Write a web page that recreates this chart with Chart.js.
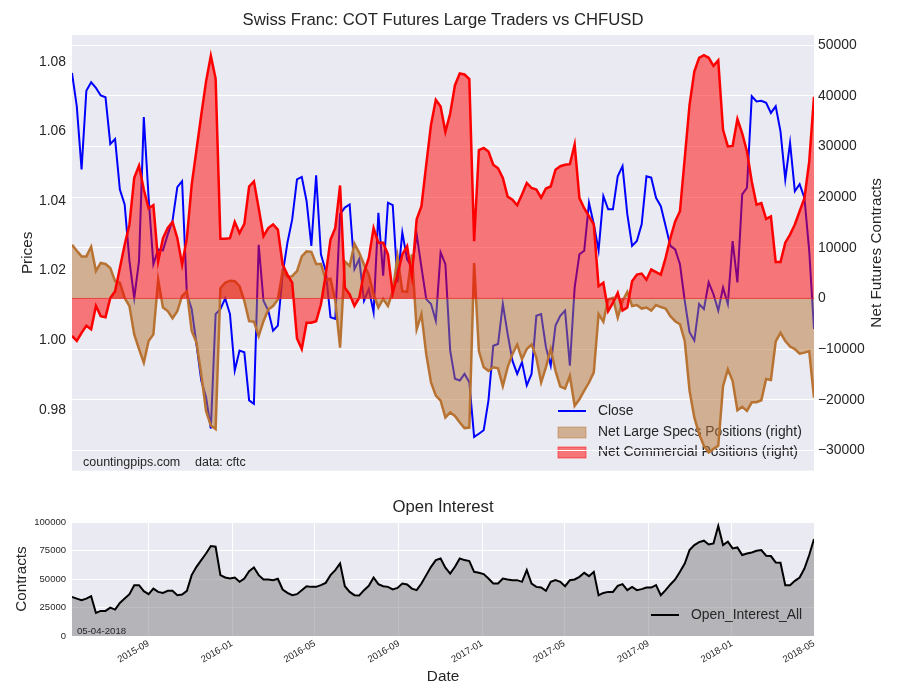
<!DOCTYPE html>
<html lang="en">
<head>
    <meta charset="UTF-8">
    <title>Swiss Franc: COT Futures Large Traders vs CHFUSD</title>
    <script src="https://cdn.jsdelivr.net/npm/chart.js"></script>
    <style>
        body { margin: 0; background: #ffffff; }
        #wrap { position: relative; width: 900px; height: 700px; }
        #topChart { position: absolute; left: 0; top: 0; }
        #oiChart { position: absolute; left: 0; top: 485px; }
    </style>
</head>
<body>
<div id="wrap">
    <canvas id="topChart" width="900" height="485"></canvas>
    <canvas id="oiChart" width="900" height="215"></canvas>
</div>

<script type="text/javascript">
    // weekly COT reports, first one on 2015-05-12, last one on 2018-05-01
    const firstReport = Date.UTC(2015, 4, 12);

    const closePrices = [
        1.0768, 1.0672, 1.0491, 1.0717, 1.0741, 1.0725, 1.0703, 1.0698, 1.0564, 1.0578,
        1.0433, 1.0390, 1.0228, 1.0121, 1.0228, 1.0641, 1.0410, 1.0218, 1.0261, 1.0258,
        1.0304, 1.0343, 1.0440, 1.0457, 1.0132, 1.0090, 0.9989, 0.9884, 0.9836, 0.9746,
        1.0075, 1.0089, 1.0120, 1.0075, 0.9913, 0.9970, 0.9965, 0.9827, 0.9817, 1.0274,
        1.0113, 1.0085, 1.0027, 1.0042, 1.0190, 1.0280, 1.0347, 1.0462, 1.0469, 1.0400,
        1.0271, 1.0474, 1.0247, 1.0199, 1.0066, 1.0061, 1.0362, 1.0381, 1.0390, 1.0204,
        1.0233, 1.0113, 1.0147, 1.0080, 1.0366, 1.0185, 1.0395, 1.0388, 1.0166, 1.0309,
        1.0233, 1.0209, 1.0304, 1.0209, 1.0118, 1.0104, 1.0056, 1.0252, 1.0218, 0.9970,
        0.9889, 0.9884, 0.9903, 0.9879, 0.9722, 0.9731, 0.9741, 0.9827, 0.9984, 0.9989,
        1.0104, 1.0018, 0.9941, 0.9903, 0.9937, 0.9870, 0.9903, 1.0070, 1.0075, 0.9980,
        0.9927, 1.0042, 1.0070, 1.0085, 0.9927, 1.0151, 1.0247, 1.0257, 1.0395, 1.0333,
        1.0258, 1.0414, 1.0376, 1.0376, 1.0471, 1.0500, 1.0362, 1.0271, 1.0285, 1.0333,
        1.0471, 1.0467, 1.0409, 1.0385, 1.0328, 1.0271, 1.0261, 1.0218, 1.0113, 1.0023,
        0.9999, 1.0104, 1.0089, 1.0166, 1.0132, 1.0085, 1.0151, 1.0104, 1.0285, 1.0166,
        1.0419, 1.0438, 1.0701, 1.0686, 1.0688, 1.0682, 1.0653, 1.0672, 1.0600, 1.0462,
        1.0567, 1.0428, 1.0448, 1.0409, 1.0257, 1.0032
    ];

    const netLargeSpecs = [
        10600, 9400, 8300, 8300, 10200, 5400, 7000, 6800, 6000, 3400,
        3100, 100, -1500, -7100, -10000, -12700, -8400, -7100, 3700, -1800,
        -2500, -3900, -2500, 500, 1400, -6400, -8700, -15000, -22200, -25100,
        -25800, 2000, 3100, 3500, 3400, 2400, -500, -4500, -4600, -7400,
        -4500, -2200, -1500, -200, 5400, 4200, 4400, 5400, 8300, 9300,
        9200, 6800, 6800, 3700, 3900, -500, -9700, 7300, 6400, 10800,
        9000, 6700, 4700, 800, -1800, -100, -1500, 1400, 8300, 1400,
        1300, 8700, -6100, -3100, -11000, -16600, -19200, -20200, -23500, -22500,
        -23200, -24500, -25600, -25500, 7000, -10400, -13600, -14300, -13600, -13800,
        -17300, -13600, -11000, -9100, -12000, -10000, -9100, -11700, -16600, -13600,
        -10000, -14300, -17400, -17800, -15300, -21200, -19900, -18200, -16600, -14600,
        -3100, -4600, -200, 100, -3800, -500, 1300, -1500, -1300, -2000,
        -1800, -2400, -1300, -1700, -2000, -3500, -4500, -5100, -8400, -18200,
        -23500, -26800, -29100, -30400, -29700, -29100, -17300, -14000, -16300, -22100,
        -21400, -22200, -20500, -20500, -20100, -15900, -16100, -8500, -6800, -8400,
        -9500, -10000, -10900, -10700, -10400, -19600
    ];

    const netCommercial = [
        -7400, -8400, -6800, -5400, -6100, -1500, -3500, -3700, 100, 1400,
        6000, 10600, 14600, 23800, 26200, 21500, 17800, 18400, 7300, 11900,
        13900, 15100, 11900, 6700, 11900, 22400, 29300, 36200, 42800, 47900,
        43400, 11800, 11800, 11900, 15100, 12900, 14700, 22100, 23100, 17800,
        12300, 13900, 14600, 13600, 6700, 4700, 3100, -7900, -10000, -4800,
        -4800, -4500, -1200, 4700, 11600, 13900, 22300, 2100, 800, -1500,
        100, 5100, 8000, 13900, 11000, 11000, 8700, 1100, 4700, 8700,
        10300, 4400, 15600, 18200, 26400, 34300, 39200, 37900, 32900, 36500,
        42100, 44400, 44200, 43300, 11300, 29300, 29700, 29000, 26400, 25700,
        23800, 20100, 19500, 18400, 20500, 22800, 21800, 21500, 19900, 21700,
        22100, 25400, 26100, 26400, 26500, 30400, 19800, 17800, 16200, 14600,
        2400, 3100, -2500, -900, 1100, -2400, -1800, 3400, 4700, 4900,
        3700, 5700, 5200, 4700, 8000, 11900, 15200, 17200, 27700, 38200,
        44800, 47500, 48000, 47500, 45900, 47000, 33300, 30000, 30100, 35400,
        32600, 29000, 23100, 18500, 18800, 15700, 16200, 7200, 7200, 11000,
        12600, 14600, 17200, 19800, 27000, 39800
    ];

    const openInterest = [
        34300, 32800, 31400, 32800, 34900, 20200, 22000, 22000, 24900, 23200,
        29000, 32800, 36700, 44600, 44600, 39300, 36700, 41600, 38700, 37800,
        39600, 39600, 35800, 36400, 39600, 53400, 60700, 66600, 72400, 78900,
        78300, 53400, 51300, 50400, 51300, 47500, 50400, 56900, 60100, 53400,
        49600, 49600, 49000, 50200, 40800, 37800, 35800, 36700, 40200, 43700,
        43100, 43100, 44600, 46600, 53400, 57800, 63600, 43700, 38700, 35800,
        35500, 40200, 44000, 51300, 45500, 43700, 43100, 40800, 42200, 46000,
        45200, 41600, 40200, 46000, 53400, 60700, 66600, 68000, 60000, 54800,
        60700, 68000, 66600, 65700, 56300, 55400, 54300, 50400, 46000, 46000,
        50400, 49600, 49000, 49000, 47500, 57800, 46000, 43100, 42500, 39600,
        47500, 49000, 47500, 43700, 49000, 49600, 51900, 55400, 52500, 56300,
        35800, 37800, 38700, 38700, 44000, 45500, 40200, 43100, 40200, 41100,
        42500, 42500, 44600, 35800, 40200, 45200, 49600, 56300, 63600, 75400,
        79800, 82400, 83600, 80300, 81200, 96500, 79800, 82700, 76800, 77700,
        71000, 72400, 73300, 74800, 75400, 70400, 70100, 64500, 64200, 44600,
        44600, 48400, 51300, 59200, 71000, 85100
    ];

    const tickMonths = ['2015-09', '2016-01', '2016-05', '2016-09', '2017-01',
                        '2017-05', '2017-09', '2018-01', '2018-05'];
    const priceTicks = [0.98, 1.00, 1.02, 1.04, 1.06, 1.08];
    const contractTicks = [-30000, -20000, -10000, 0, 10000, 20000, 30000, 40000, 50000];
    const oiTicks = [0, 25000, 50000, 75000, 100000];

    const DAY = 86400000;
    const FONT = "'Liberation Sans', Arial, sans-serif";
    const INK = '#262626';
    const PLOT_BG = '#eaeaf2';

    Chart.defaults.font.family = FONT;
    Chart.defaults.color = INK;

    // x positions = days since the first report
    const reportDays = closePrices.map((_, i) => i * 7);
    const lastDay = reportDays[reportDays.length - 1];
    const monthDays = tickMonths.map(m =>
        (Date.UTC(+m.slice(0, 4), +m.slice(5, 7) - 1, 1) - firstReport) / DAY);

    const pts = arr => arr.map((v, i) => ({ x: reportDays[i], y: v }));
    const minusSign = v => (v < 0 ? '\u2212' + Math.abs(v) : String(v));

    function text(ctx, str, x, y, size, align, rot) {
        ctx.save();
        ctx.font = size + 'px ' + FONT;
        ctx.fillStyle = INK;
        ctx.textAlign = align || 'center';
        ctx.textBaseline = 'middle';
        ctx.translate(x, y);
        if (rot) ctx.rotate(rot);
        ctx.fillText(str, 0, 0);
        ctx.restore();
    }

    // background, legend and captions for the price / positions chart
    const topDecor = {
        id: 'topDecor',
        beforeDraw(chart) {
            const { ctx, chartArea: a } = chart;
            ctx.save();
            ctx.fillStyle = PLOT_BG;
            ctx.fillRect(a.left, a.top, a.right - a.left, a.bottom - a.top);

            // legend (sits under the right-axis artists, like the original)
            ctx.strokeStyle = '#0000ff';
            ctx.lineWidth = 2;
            ctx.beginPath();
            ctx.moveTo(558, 411);
            ctx.lineTo(586, 411);
            ctx.stroke();
            ctx.fillStyle = 'rgba(184,115,51,0.5)';
            ctx.fillRect(558, 427, 28, 11);
            ctx.strokeStyle = 'rgba(184,115,51,0.5)';
            ctx.lineWidth = 1;
            ctx.strokeRect(558, 427, 28, 11);
            ctx.fillStyle = 'rgba(255,0,0,0.5)';
            ctx.fillRect(558, 447, 28, 11);
            ctx.strokeStyle = 'rgba(255,0,0,0.5)';
            ctx.strokeRect(558, 447, 28, 11);
            ctx.restore();
            text(ctx, 'Close', 598, 411, 13.9, 'left');
            text(ctx, 'Net Large Specs Positions (right)', 598, 432, 13.9, 'left');
            text(ctx, 'Net Commercial Positions (right)', 598, 452, 13.9, 'left');

            text(ctx, 'countingpips.com', 83, 463, 12.5, 'left');
            text(ctx, 'data: cftc', 195, 463, 12.5, 'left');
        },
        afterDatasetsDraw(chart) {
            const { ctx, chartArea: a } = chart;
            const y0 = chart.scales.yContracts.getPixelForValue(0);
            ctx.save();
            ctx.strokeStyle = 'rgba(230,40,40,0.8)';
            ctx.lineWidth = 1;
            ctx.beginPath();
            ctx.moveTo(a.left, y0);
            ctx.lineTo(a.right, y0);
            ctx.stroke();
            ctx.restore();
        },
        afterDraw(chart) {
            const { ctx, chartArea: a } = chart;
            const mid = (a.top + a.bottom) / 2;
            text(ctx, 'Swiss Franc: COT Futures Large Traders vs CHFUSD', (a.left + a.right) / 2, 20, 16.7);
            text(ctx, 'Prices', 28, mid, 15.3, 'center', -Math.PI / 2);
            text(ctx, 'Net Futures Contracts', 877, mid, 15.3, 'center', -Math.PI / 2);
        }
    };

    new Chart(document.getElementById('topChart').getContext('2d'), {
        type: 'line',
        data: {
            datasets: [{
                label: 'Net Commercial Positions (right)',
                data: pts(netCommercial),
                yAxisID: 'yContracts',
                borderColor: '#ff0000',
                backgroundColor: 'rgba(255,0,0,0.5)',
                borderWidth: 2.5,
                fill: 'origin'
            }, {
                label: 'Net Large Specs Positions (right)',
                data: pts(netLargeSpecs),
                yAxisID: 'yContracts',
                borderColor: '#b87333',
                backgroundColor: 'rgba(184,115,51,0.5)',
                borderWidth: 2.5,
                fill: 'origin'
            }, {
                label: 'Close',
                data: pts(closePrices),
                yAxisID: 'yPrice',
                borderColor: '#0000ff',
                borderWidth: 2,
                fill: false
            }]
        },
        options: {
            responsive: false,
            animation: false,
            devicePixelRatio: 1,
            elements: { point: { radius: 0 }, line: { tension: 0 } },
            layout: { padding: { top: 35, bottom: 13, left: 0, right: 0 } },
            plugins: { legend: { display: false }, tooltip: { enabled: false } },
            scales: {
                x: { type: 'linear', min: 0, max: lastDay, display: false },
                yPrice: {
                    position: 'left',
                    min: 0.9625, max: 1.0877,
                    afterBuildTicks: axis => { axis.ticks = priceTicks.map(v => ({ value: v })); },
                    afterFit: axis => { axis.width = 72; },
                    grid: { display: false, drawTicks: false },
                    border: { display: false },
                    ticks: { font: { size: 13.9 }, padding: 6, callback: v => v.toFixed(2) }
                },
                yContracts: {
                    position: 'right',
                    min: -34000, max: 52000,
                    afterBuildTicks: axis => { axis.ticks = contractTicks.map(v => ({ value: v })); },
                    afterFit: axis => { axis.width = 86; },
                    grid: { color: '#ffffff', lineWidth: 1, drawTicks: false },
                    border: { display: false },
                    ticks: { font: { size: 13.9 }, padding: 4, callback: v => minusSign(v) }
                }
            }
        },
        plugins: [topDecor]
    });

    // open interest panel
    const oiDecor = {
        id: 'oiDecor',
        beforeDraw(chart) {
            const { ctx, chartArea: a } = chart;
            ctx.save();
            ctx.fillStyle = PLOT_BG;
            ctx.fillRect(a.left, a.top, a.right - a.left, a.bottom - a.top);
            ctx.restore();
        },
        afterDatasetsDraw(chart) {
            const { ctx } = chart;
            ctx.save();
            ctx.strokeStyle = '#000000';
            ctx.lineWidth = 2;
            ctx.beginPath();
            ctx.moveTo(651, 130);
            ctx.lineTo(679, 130);
            ctx.stroke();
            ctx.restore();
            text(ctx, 'Open_Interest_All', 691, 130, 13.9, 'left');
            text(ctx, '05-04-2018', 77, 146, 9.6, 'left');
        },
        afterDraw(chart) {
            const { ctx, chartArea: a } = chart;
            text(ctx, 'Open Interest', (a.left + a.right) / 2, 22, 16.7);
            text(ctx, 'Contracts', 22, (a.top + a.bottom) / 2, 15.3, 'center', -Math.PI / 2);
            text(ctx, 'Date', (a.left + a.right) / 2, 192, 15.3);
        }
    };

    new Chart(document.getElementById('oiChart').getContext('2d'), {
        type: 'line',
        data: {
            datasets: [{
                label: 'Open_Interest_All',
                data: pts(openInterest),
                borderColor: '#000000',
                backgroundColor: 'rgba(128,128,128,0.5)',
                borderWidth: 2,
                fill: 'origin'
            }]
        },
        options: {
            responsive: false,
            animation: false,
            devicePixelRatio: 1,
            elements: { point: { radius: 0 }, line: { tension: 0 } },
            layout: { padding: { top: 37, bottom: 0, left: 0, right: 86 } },
            plugins: { legend: { display: false }, tooltip: { enabled: false } },
            scales: {
                x: {
                    type: 'linear', min: 0, max: lastDay,
                    afterBuildTicks: axis => { axis.ticks = monthDays.map(v => ({ value: v })); },
                    afterFit: axis => { axis.height = 64; },
                    grid: { color: '#ffffff', lineWidth: 1, drawTicks: false },
                    border: { display: false },
                    ticks: {
                        font: { size: 9.5 }, padding: 2, autoSkip: false,
                        minRotation: 30, maxRotation: 30,
                        callback: v => tickMonths[monthDays.indexOf(v)]
                    }
                },
                y: {
                    min: 0, max: 100000,
                    afterBuildTicks: axis => { axis.ticks = oiTicks.map(v => ({ value: v })); },
                    afterFit: axis => { axis.width = 72; },
                    grid: { color: '#ffffff', lineWidth: 1, drawTicks: false },
                    border: { display: false },
                    ticks: { font: { size: 9.5 }, padding: 6, callback: v => String(v) }
                }
            }
        },
        plugins: [oiDecor]
    });
</script>
</body>
</html>
